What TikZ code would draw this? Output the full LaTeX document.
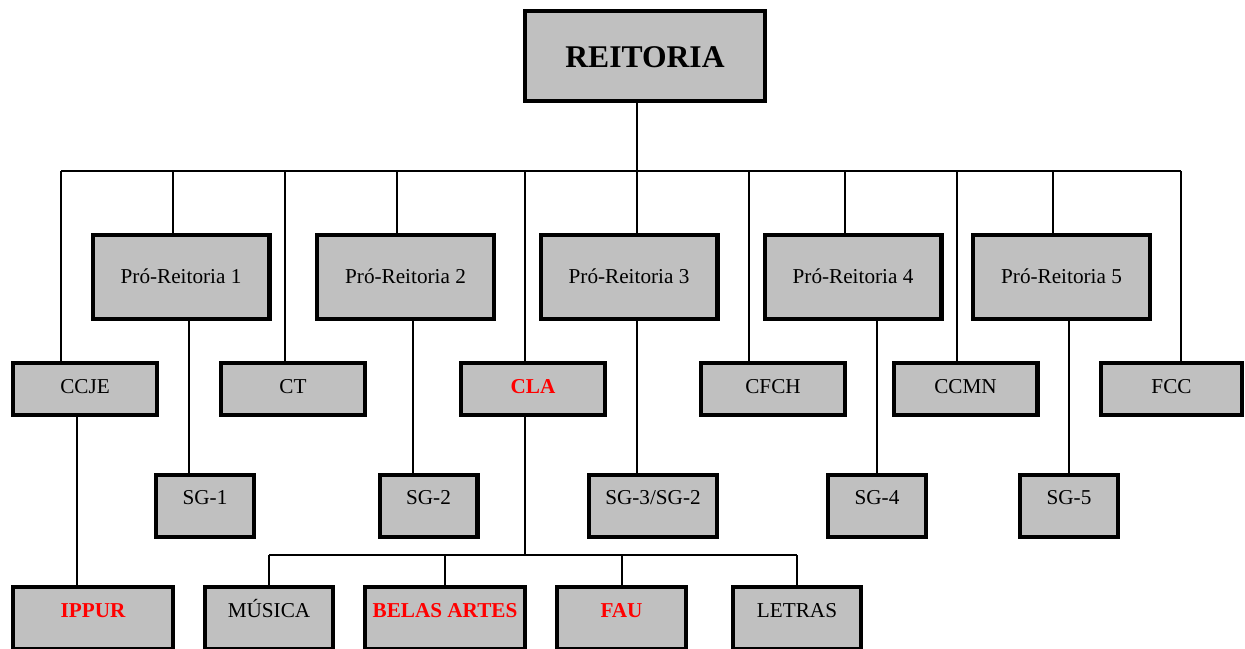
\documentclass[tikz,border=0pt]{standalone}
\usepackage{fontspec}
\setmainfont{Liberation Serif}
\usepackage{tikz}

\definecolor{caixa}{RGB}{192,192,192}
\newcommand{\corpo}{\fontsize{10.6}{12}\selectfont}

\begin{document}
\begin{tikzpicture}[
	x=0.5pt, y=-0.5pt, % one unit is one pixel of the chart
	line width=1pt, % thin connectors
	orgao/.style={draw, line width=2.2pt, fill=caixa, inner sep=0pt, font=\corpo},
	reit/.style={orgao, minimum width=119.8pt, text height=27.9pt, text depth=16.9pt,
		font=\fontsize{15.8}{18}\selectfont\bfseries},
	pro/.style={orgao, minimum width=88.3pt, text height=23.9pt, text depth=17.9pt},
	centro/.style={orgao, minimum width=71.8pt, text height=14.9pt, text depth=10.9pt},
	sg/.style={orgao, minimum width=48.8pt, text height=14.4pt, text depth=16.4pt},
	curso/.style={orgao, minimum width=63.8pt, text height=14.9pt, text depth=15.9pt},
	destaque/.style={text=red, font=\corpo\bfseries} % units in red
]
\useasboundingbox (0,0) rectangle (1245,648);

\node[reit](REITORIA) at (645,56) {REITORIA};

\node[pro](PR1) at (181,277) {Pró-Reitoria 1};
\node[pro](PR2) at (405.5,277) {Pró-Reitoria 2};
\node[pro](PR3) at (629,277) {Pró-Reitoria 3};
\node[pro](PR4) at (853,277) {Pró-Reitoria 4};
\node[pro](PR5) at (1061.5,277) {Pró-Reitoria 5};

\node[centro](CCJE) at (85,389) {CCJE};
\node[centro](CT) at (293,389) {CT};
\node[centro,destaque](CLA) at (533,389) {CLA};
\node[centro](CFCH) at (773,389) {CFCH};
\node[centro](CCMN) at (965.5,389) {CCMN};
\node[centro,minimum width=70.3pt](FCC) at (1171.5,389) {FCC};

\node[sg](SG1) at (205,506) {SG-1};
\node[sg](SG2) at (428.5,506) {SG-2};
\node[sg,minimum width=63.8pt](SG3) at (653,506) {SG-3/SG-2};
\node[sg](SG4) at (877,506) {SG-4};
\node[sg](SG5) at (1069,506) {SG-5};

\node[curso,destaque,minimum width=79.8pt](IPPUR) at (93,618) {IPPUR};
\node[curso](MUSICA) at (269,618) {MÚSICA};
\node[curso,destaque,minimum width=79.8pt](BELAS) at (445,618) {BELAS ARTES};
\node[curso,destaque,minimum width=64.3pt](FAU) at (621.5,618) {FAU};
\node[curso](LETRAS) at (797,618) {LETRAS};

% main bus under the Reitoria
\foreach \n/\x in {CCJE/61, PR1/173, CT/285, PR2/397, CLA/525, PR3/637,
	CFCH/749, PR4/845, CCMN/957, PR5/1053, FCC/1181} {
	\coordinate (d\n) at (\x,171);
	\draw (d\n) -- (d\n |- \n.north);
}
\draw (dCCJE) -- (dFCC);
\draw (REITORIA.south -| dPR3) -- (dPR3);

% Pró-Reitorias to their SG
\foreach \p/\s/\x in {PR1/SG1/189, PR2/SG2/413, PR3/SG3/637, PR4/SG4/877, PR5/SG5/1069} {
	\coordinate (s\s) at (\x,0);
	\draw (\p.south -| s\s) -- (\s.north -| s\s);
}

% CCJE to IPPUR
\coordinate (ccje) at (77,0);
\draw (CCJE.south -| ccje) -- (IPPUR.north -| ccje);

% CLA and its courses
\coordinate (cla) at (525,555);
\draw (CLA.south -| cla) -- (cla);
\draw (cla -| MUSICA) -- (cla -| LETRAS);
\foreach \n in {MUSICA,BELAS,FAU,LETRAS}
	\draw (cla -| \n) -- (\n.north);
\end{tikzpicture}
\end{document}
